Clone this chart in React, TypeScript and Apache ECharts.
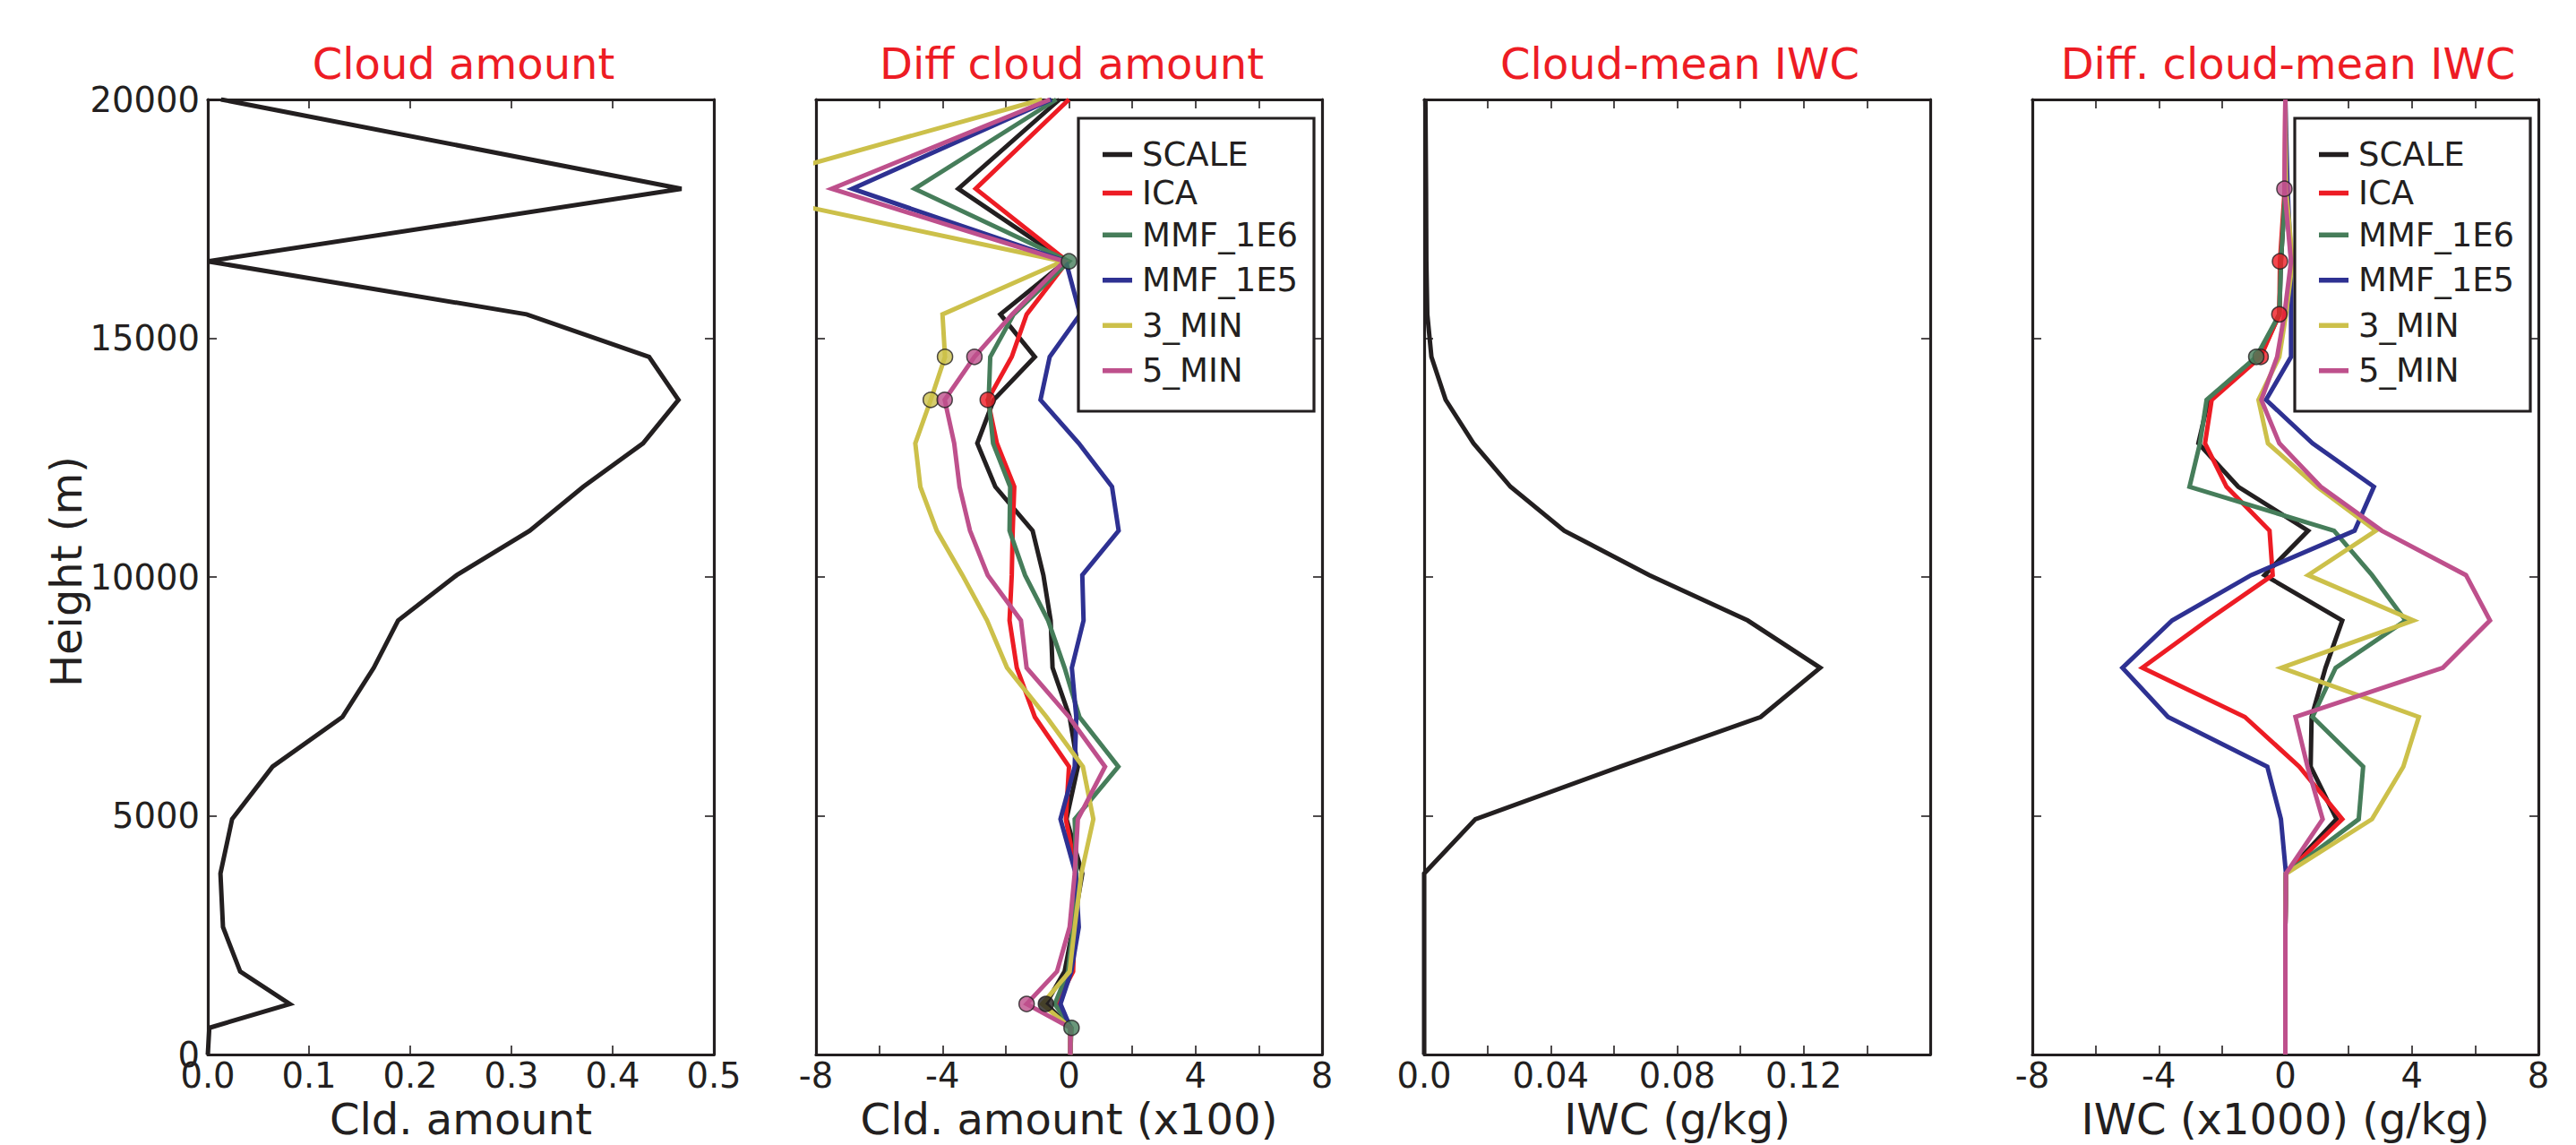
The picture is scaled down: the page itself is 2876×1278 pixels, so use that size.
import React, { useEffect, useRef } from 'react';
import * as echarts from 'echarts';

// Model levels (m), top to bottom
const heights = [20000, 18130, 16610, 15500, 14610, 13710, 12800, 11890, 10970, 10040, 9090, 8100, 7070, 6030, 4930, 3790, 2670, 1740, 1060, 560, 0];

// Panel 1: cloud amount
const cloudAmount = [0.013, 0.468, 0.0, 0.315, 0.436, 0.465, 0.43, 0.371, 0.318, 0.246, 0.188, 0.164, 0.133, 0.064, 0.024, 0.0125, 0.015, 0.032, 0.081, 0.0015, 0.0];

// Panel 2: diff cloud amount (x100)
const dcSCALE = [-0.3, -3.5, -0.1, -2.17, -1.08, -2.38, -2.9, -2.33, -1.15, -0.81, -0.58, -0.52, 0.02, 0.28, -0.08, 0.42, 0.13, -0.14, -0.73, 0.05, 0.04];
const dcICA = [0.0, -2.95, -0.05, -1.34, -1.81, -2.57, -2.28, -1.73, -1.78, -1.81, -1.88, -1.65, -1.08, 0.0, -0.1, 0.23, 0.18, 0.13, -0.4, 0.05, 0.04];
const dcMMF1E6 = [-0.4, -4.88, 0.0, -1.75, -2.49, -2.54, -2.4, -1.86, -1.88, -1.39, -0.66, -0.14, 0.33, 1.56, 0.18, 0.23, 0.13, -0.03, -0.45, 0.08, 0.04];
const dcMMF1E5 = [-0.55, -6.85, -0.1, 0.35, -0.61, -0.9, 0.31, 1.36, 1.57, 0.42, 0.46, 0.09, 0.23, 0.18, -0.27, 0.21, 0.31, 0.07, -0.27, 0.05, 0.04];
const dc3MIN = [-0.85, -11.0, -0.2, -4.0, -3.92, -4.37, -4.86, -4.7, -4.18, -3.37, -2.59, -1.96, -0.71, 0.44, 0.77, 0.39, 0.18, 0.02, -0.85, 0.05, 0.04];
const dc5MIN = [-0.6, -7.5, -0.15, -1.8, -2.99, -3.93, -3.63, -3.46, -3.13, -2.57, -1.52, -1.34, 0.0, 1.14, 0.28, 0.18, 0.02, -0.38, -1.34, 0.05, 0.04];

// Panel 3: cloud-mean IWC (g/kg)
const iwc = [0.0004, 0.0006, 0.0007, 0.001, 0.0023, 0.0068, 0.0156, 0.0273, 0.0443, 0.0712, 0.1023, 0.1252, 0.1064, 0.062, 0.0162, 0.0, 0.0, 0.0, 0.0, 0.0, 0.0];

// Panel 4: diff cloud-mean IWC (x1000)
const diSCALE = [0, 0, -0.14, -0.19, -0.81, -2.43, -2.75, -1.49, 0.72, -0.66, 1.8, 1.27, 0.83, 0.8, 1.62, 0.02, 0, 0, 0, 0, 0];
const diICA = [0, -0.02, -0.17, -0.19, -0.78, -2.33, -2.54, -1.86, -0.5, -0.4, -2.47, -4.52, -1.28, 0.44, 1.8, 0.02, 0, 0, 0, 0, 0];
const diMMF1E6 = [0, 0, -0.14, -0.19, -0.92, -2.49, -2.7, -3.03, 1.54, 2.74, 3.8, 1.59, 0.86, 2.46, 2.32, 0.02, 0, 0, 0, 0, 0];
const diMMF1E5 = [0, 0.07, 0.18, 0.18, 0.18, -0.61, 0.86, 2.8, 2.19, -1.08, -3.58, -5.15, -3.71, -0.57, -0.14, 0.02, 0, 0, 0, 0, 0];
const di3MIN = [0, 0.02, 0.23, 0.02, -0.19, -0.85, -0.55, 1.0, 2.86, 0.72, 4.05, -0.12, 4.22, 3.73, 2.74, 0.02, 0, 0, 0, 0, 0];
const di5MIN = [0, -0.03, 0.18, -0.03, -0.26, -0.76, -0.19, 1.12, 3.05, 5.71, 6.47, 4.98, 0.32, 0.7, 1.18, 0.02, 0, 0, 0, 0, 0];

const seriesNames = ['SCALE', 'ICA', 'MMF_1E6', 'MMF_1E5', '3_MIN', '5_MIN'];
const seriesColors = ['#231f20', '#ed1c24', '#467d5a', '#2e3192', '#ccc04a', '#be508c'];
const diffCloud = [dcSCALE, dcICA, dcMMF1E6, dcMMF1E5, dc3MIN, dc5MIN];
const diffIwc = [diSCALE, diICA, diMMF1E6, diMMF1E5, di3MIN, di5MIN];

// Significance markers: [series name, level index]
const diffCloudMarkers: [string, number][] = [
  ['MMF_1E6', 2], ['3_MIN', 4], ['5_MIN', 4], ['3_MIN', 5], ['5_MIN', 5], ['ICA', 5],
  ['5_MIN', 18], ['SCALE', 18], ['MMF_1E6', 19],
];
const diffIwcMarkers: [string, number][] = [
  ['5_MIN', 1], ['ICA', 2], ['ICA', 3], ['ICA', 4], ['MMF_1E6', 4],
];

const titles = ['Cloud amount', 'Diff cloud amount', 'Cloud-mean IWC', 'Diff. cloud-mean IWC'];
const xNames = ['Cld. amount', 'Cld. amount (x100)', 'IWC (g/kg)', 'IWC (x1000) (g/kg)'];

const FONT = '"DejaVu Sans", "Bitstream Vera Sans", sans-serif';
const INK = '#231f20';
const RED = '#ed1c24';

const GRID_LEFT = [232, 911, 1590, 2269];
const GRID_W = 565;
const GRID_TOP = 111;
const GRID_H = 1076;

export default function App() {
  const ref = useRef<HTMLDivElement>(null);

  useEffect(() => {
    if (!ref.current) return;
    const chart = echarts.init(ref.current, null, { renderer: 'svg' });

    const fmtCld = (v: number) => v.toFixed(1);
    const fmtDiff = (v: number) => {
      const r = Math.round(v);
      return r % 4 === 0 ? String(r === 0 ? 0 : r) : '';
    };
    const fmtIwc = (v: number) => {
      const k = Math.round(v / 0.02);
      if (k % 2 !== 0 || k === 8) return '';
      return k === 0 ? '0.0' : (k * 0.02).toFixed(2);
    };
    const xSpecs = [
      { min: 0, max: 0.5, interval: 0.1, fmt: fmtCld },
      { min: -8, max: 8, interval: 2, fmt: fmtDiff },
      { min: 0, max: 0.16, interval: 0.02, fmt: fmtIwc },
      { min: -8, max: 8, interval: 2, fmt: fmtDiff },
    ];

    const axisLine = { show: true, onZero: false, lineStyle: { color: INK, width: 3.2 } };
    const axisTick = { show: true, inside: true, length: 10, lineStyle: { color: INK, width: 1.6 } };
    const TICK_FS = 38.5;

    const grid: any[] = [];
    const xAxis: any[] = [];
    const yAxis: any[] = [];
    for (let g = 0; g < 4; g++) {
      grid.push({ left: GRID_LEFT[g], top: GRID_TOP, width: GRID_W, height: GRID_H, containLabel: false });
      const s = xSpecs[g];
      xAxis.push({
        type: 'value', gridIndex: g, position: 'bottom', min: s.min, max: s.max, interval: s.interval,
        axisLine, axisTick, splitLine: { show: false },
        axisLabel: { show: true, margin: 4, formatter: s.fmt, color: INK, fontSize: TICK_FS, fontFamily: FONT, showMinLabel: true, showMaxLabel: true },
        name: xNames[g], nameLocation: 'middle', nameGap: 47,
        nameTextStyle: { color: INK, fontSize: 48, fontFamily: FONT },
      });
      xAxis.push({
        type: 'value', gridIndex: g, position: 'top', min: s.min, max: s.max, interval: s.interval,
        axisLine, axisTick, splitLine: { show: false }, axisLabel: { show: false },
      });
      yAxis.push({
        type: 'value', gridIndex: g, position: 'left', min: 0, max: 20000, interval: 5000,
        axisLine, axisTick, splitLine: { show: false },
        axisLabel: { show: g === 0, margin: 9, color: INK, fontSize: TICK_FS, fontFamily: FONT, formatter: (v: number) => String(v) },
      });
      yAxis.push({
        type: 'value', gridIndex: g, position: 'right', min: 0, max: 20000, interval: 5000,
        axisLine, axisTick, splitLine: { show: false }, axisLabel: { show: false },
      });
    }

    const lineStyle = (color: string) => ({ color, width: 5, join: 'miter', miterLimit: 10, cap: 'butt' });
    const toPairs = (vals: number[]) => heights.map((h, i) => [vals[i], h]);

    const series: any[] = [];
    series.push({
      type: 'line', name: 'cloud', xAxisIndex: 0, yAxisIndex: 0, data: toPairs(cloudAmount),
      symbol: 'none', showSymbol: false, lineStyle: lineStyle(INK), itemStyle: { color: INK }, silent: true, z: 2,
    });
    series.push({
      type: 'line', name: 'iwc', xAxisIndex: 4, yAxisIndex: 4, data: toPairs(iwc),
      symbol: 'none', showSymbol: false, lineStyle: lineStyle(INK), itemStyle: { color: INK }, silent: true, z: 2,
    });
    const panelSets = [
      { arrays: diffCloud, ax: 2, markers: diffCloudMarkers },
      { arrays: diffIwc, ax: 6, markers: diffIwcMarkers },
    ];
    panelSets.forEach((p) => {
      p.arrays.forEach((vals, i) => {
        series.push({
          type: 'line', name: seriesNames[i], xAxisIndex: p.ax, yAxisIndex: p.ax, data: toPairs(vals),
          symbol: 'none', showSymbol: false, lineStyle: lineStyle(seriesColors[i]),
          itemStyle: { color: seriesColors[i] }, silent: true, z: 2,
        });
      });
      series.push({
        type: 'scatter', name: 'markers', xAxisIndex: p.ax, yAxisIndex: p.ax, symbol: 'circle', symbolSize: 17,
        silent: true, z: 3,
        data: p.markers.map(([nm, idx]) => {
          const si = seriesNames.indexOf(nm);
          return { value: [p.arrays[si][idx], heights[idx]], itemStyle: { color: seriesColors[si], borderColor: INK, borderWidth: 1.5 } };
        }),
      });
    });

    const legendFor = (left: number) => ({
      show: true, orient: 'vertical', left, top: 151, padding: 0, itemGap: 0,
      itemWidth: 33, itemHeight: 5.5, icon: 'rect', selectedMode: false,
      textStyle: { color: INK, fontSize: 37, fontFamily: FONT, padding: [0, 0, 0, 6] },
      data: seriesNames.map((n, i) => ({ name: n, textStyle: { lineHeight: i < 2 ? 43 : 50.5 } })),
      z: 6,
    });

    const graphic: any[] = [];
    titles.forEach((t, g) => {
      graphic.push({
        type: 'text', x: GRID_LEFT[g] + GRID_W / 2 + 3, y: 71, silent: true,
        style: { text: t, fill: RED, fontSize: 48, fontFamily: FONT, align: 'center', verticalAlign: 'middle' },
      });
    });
    graphic.push({
      type: 'text', x: 74, y: 638, rotation: Math.PI / 2, silent: true,
      style: { text: 'Height (m)', fill: INK, fontSize: 48, fontFamily: FONT, align: 'center', verticalAlign: 'middle' },
    });
    [1204, 2562].forEach((x) => {
      graphic.push({
        type: 'rect', z: 5, silent: true,
        shape: { x, y: 132, width: 263, height: 327 },
        style: { fill: '#ffffff', stroke: INK, lineWidth: 3.2 },
      });
    });

    chart.setOption({
      animation: false,
      backgroundColor: '#ffffff',
      grid, xAxis, yAxis, series,
      legend: [legendFor(1231), legendFor(2589)],
      graphic,
    });

    return () => chart.dispose();
  }, []);

  return <div ref={ref} style={{ position: 'absolute', left: 0, top: 0, width: 2876, height: 1278 }} />;
}
